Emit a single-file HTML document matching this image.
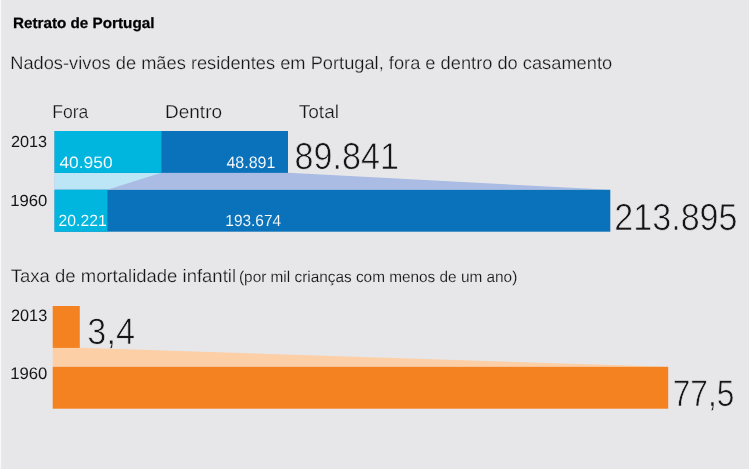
<!DOCTYPE html>
<html lang="pt"><head><meta charset="utf-8"><title>Retrato de Portugal</title>
<style>
html,body{margin:0;padding:0;background:#e7e7e9;}
body{width:749px;height:469px;overflow:hidden;}
svg{display:block;font-family:"Liberation Sans",sans-serif;}
text{white-space:pre;text-rendering:geometricPrecision;}
</style></head><body>
<svg width="749" height="469" viewBox="0 0 749 469">
<rect x="0" y="0" width="749" height="469" fill="#e7e7e9"/>
<rect x="0" y="0" width="1" height="469" fill="#f8f8f9"/>
<rect x="1" y="0" width="1" height="469" fill="#e9e9eb"/>
<!-- births chart -->
<polygon points="54.6,172.8 288,172.8 610.3,189.8 54.6,189.8" fill="#aabbe4"/>
<polygon points="54.6,172.8 161.4,172.8 107.4,189.8 54.6,189.8" fill="#bce5f5"/>
<rect x="54.6" y="131" width="233.4" height="41.9" fill="#0a72ba"/>
<rect x="54.6" y="131" width="106.8" height="41.9" fill="#00b5de"/>
<rect x="54.6" y="189.8" width="555.7" height="41.9" fill="#0a72ba"/>
<rect x="54.6" y="189.8" width="52.8" height="41.9" fill="#00b5de"/>
<!-- infant mortality chart -->
<polygon points="52.7,347.8 79.8,347.8 668.2,366.8 52.7,366.8" fill="#fccfa6"/>
<rect x="52.7" y="306" width="27.1" height="41.9" fill="#f58220"/>
<rect x="52.7" y="366.8" width="615.5" height="41.9" fill="#f58220"/>
<text transform="translate(12.91 27.88) scale(1.0222 1)" font-size="14.93" font-weight="bold" fill="#000" stroke="#000" stroke-width="0.25" stroke-linejoin="round">Retrato de Portugal</text>
<text transform="translate(10.21 68.92) scale(1.0128 1)" font-size="18.04" fill="#151515" stroke="#e7e7e9" stroke-width="0.25" stroke-linejoin="round">Nados-vivos de mães residentes em Portugal, fora e dentro do casamento</text>
<text transform="translate(52.18 117.92) scale(0.9374 1)" font-size="18.77" fill="#151515" stroke="#e7e7e9" stroke-width="0.25" stroke-linejoin="round">Fora</text>
<text transform="translate(165.06 117.92) scale(1.0111 1)" font-size="18.77" fill="#151515" stroke="#e7e7e9" stroke-width="0.25" stroke-linejoin="round">Dentro</text>
<text transform="translate(298.69 117.92) scale(1.0171 1)" font-size="18.77" fill="#151515" stroke="#e7e7e9" stroke-width="0.25" stroke-linejoin="round">Total</text>
<text transform="translate(10.99 146.50) scale(1.0081 1)" font-size="16.14" fill="#151515">2013</text>
<text transform="translate(59.40 167.85) scale(1.0604 1)" font-size="16.43" fill="#fff" stroke="#00b5de" stroke-width="0.1" stroke-linejoin="round">40.950</text>
<text transform="translate(226.38 167.85) scale(0.9753 1)" font-size="16.43" fill="#fff" stroke="#0a72ba" stroke-width="0.1" stroke-linejoin="round">48.891</text>
<text transform="translate(294.62 168.95) scale(0.9074 1)" font-size="37.57" fill="#151515" stroke="#e7e7e9" stroke-width="0.7" stroke-linejoin="round">89.841</text>
<text transform="translate(10.23 205.50) scale(1.0351 1)" font-size="16.14" fill="#151515">1960</text>
<text transform="translate(58.56 225.85) scale(0.9765 1)" font-size="16.14" fill="#fff" stroke="#00b5de" stroke-width="0.1" stroke-linejoin="round">20.221</text>
<text transform="translate(225.37 225.85) scale(0.9559 1)" font-size="16.14" fill="#fff" stroke="#0a72ba" stroke-width="0.1" stroke-linejoin="round">193.674</text>
<text transform="translate(614.28 230.05) scale(0.9042 1)" font-size="37.71" fill="#151515" stroke="#e7e7e9" stroke-width="0.7" stroke-linejoin="round">213.895</text>
<text transform="translate(10.80 281.73) scale(1.0260 1)" font-size="18.04" fill="#151515" stroke="#e7e7e9" stroke-width="0.25" stroke-linejoin="round">Taxa de mortalidade infantil</text>
<text transform="translate(239.00 281.77) scale(0.9879 1)" font-size="15.55" fill="#151515" stroke="#e7e7e9" stroke-width="0.15" stroke-linejoin="round">(por mil crianças com menos de um ano)</text>
<text transform="translate(10.99 320.90) scale(0.9820 1)" font-size="16.57" fill="#151515">2013</text>
<text transform="translate(87.35 344.35) scale(0.9321 1)" font-size="36.71" fill="#151515" stroke="#e7e7e9" stroke-width="0.7" stroke-linejoin="round">3,4</text>
<text transform="translate(10.23 379.40) scale(1.0084 1)" font-size="16.57" fill="#151515">1960</text>
<text transform="translate(672.72 405.55) scale(0.8492 1)" font-size="37.29" fill="#151515" stroke="#e7e7e9" stroke-width="0.7" stroke-linejoin="round">77,5</text>
</svg>
</body></html>
